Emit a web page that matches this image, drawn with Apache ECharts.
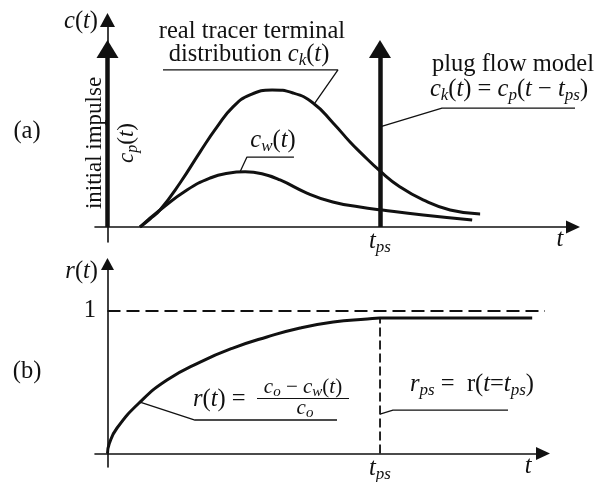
<!DOCTYPE html>
<html>
<head>
<meta charset="utf-8">
<script src="https://cdn.jsdelivr.net/npm/echarts@6/dist/echarts.min.js"></script>
<style>html,body{margin:0;padding:0;background:#fff}#c{width:594px;height:482px}</style>
</head>
<body>
<div id="c"></div>
<script>
// ---- data (panel a) ----
const tCk = [0.716, 0.936, 1.156, 1.597, 2.037, 2.412, 2.764, 3.139, 3.623, 4.086, 4.526, 4.967, 5.341, 5.561, 6.024, 6.443, 6.949, 7.544, 8.205];
const cCk = [0, 0.058, 0.123, 0.319, 0.543, 0.725, 0.870, 0.957, 0.993, 0.971, 0.899, 0.754, 0.616, 0.543, 0.399, 0.290, 0.196, 0.123, 0.094];
const tCw = [0.716, 1.156, 1.75, 2.26, 2.65, 3.03, 3.4, 3.8, 4.39, 4.96, 5.56, 6.05, 6.95, 8.03];
const cCw = [0, 0.123, 0.268, 0.355, 0.390, 0.400, 0.386, 0.341, 0.246, 0.181, 0.145, 0.123, 0.087, 0.051];
const tPs = 6;
const impulseHeight = 1.29;
// ---- data (panel b) ----
const tR = [0, 0.04, 0.21, 0.716, 1.31, 2.04, 2.76, 3.51, 4.24, 4.97, 5.72, 6.0, 9.35];
const rR = [0, 0.07, 0.179, 0.361, 0.516, 0.642, 0.740, 0.818, 0.881, 0.923, 0.944, 0.951, 0.951];
const rRef = 1;
const tRefEnd = 9.81;
// ---- tick labels ----
const tLabelA = 9.96, tLabelB = 9.26;
// ---- leader lines (data coords) ----
const leadCkT = [1.222, 5.075, 4.568], leadCkC = [1.138, 1.138, 0.899];
const leadCwT = [4.106, 3.071, 2.917], leadCwC = [0.507, 0.507, 0.399];
const leadPfT = [10.711, 7.365, 6.0], leadPfC = [0.862, 0.862, 0.725];
const leadRT = [5.053, 1.926, 0.716], leadRR = [0.235, 0.235, 0.361];
const leadRpsT = [8.818, 6.285, 6.0], leadRpsR = [0.305, 0.305, 0.277];

const zip = (a, b) => a.map((v, i) => [v, b[i]]);
const F = 'Liberation Serif';
const K = '#111';
function richSet(size, subSize, subPad) {
  return {
    n: {fontFamily: F, fontSize: size, fill: K, color: K},
    i: {fontFamily: F, fontSize: size, fontStyle: 'italic', fill: K, color: K},
    s: {fontFamily: F, fontSize: subSize, fontStyle: 'italic', fill: K, color: K, padding: [subPad, 0, 0, 0]}
  };
}
const R24 = richSet(24.5, 17, 12);
const R23 = richSet(23, 16, 11);
const R21 = richSet(21, 15, 10);

function txt(x, y, text, align, rich, rot) {
  return {type: 'text', x: x, y: y, rotation: rot || 0, silent: true,
    style: {text: text, align: align, verticalAlign: 'middle', rich: rich || R24,
      font: '24px "' + F + '"', fill: K}};
}
const lead = (name, xi, yi, t, v) => ({type: 'line', name: name, xAxisIndex: xi, yAxisIndex: yi,
  data: zip(t, v), symbol: 'none', clip: false, silent: true, z: 3,
  lineStyle: {color: K, width: 1.3}});

const axisCommon = {
  splitLine: {show: false}, axisTick: {show: false},
  axisLine: {onZero: true, symbol: ['none', 'triangle'], lineStyle: {color: K, width: 1.6}}
};

const chart = echarts.init(document.getElementById('c'), null, {renderer: 'canvas'});
chart.setOption({
  animation: false,
  backgroundColor: '#fff',
  grid: [
    {left: 95, right: 21, top: 20, bottom: 240, outerBoundsMode: 'none', containLabel: false},
    {left: 95, right: 51, top: 264, bottom: 15, outerBoundsMode: 'none', containLabel: false}
  ],
  xAxis: [
    Object.assign({}, axisCommon, {type: 'value', gridIndex: 0, min: -0.275, max: 10.25,
      axisLine: Object.assign({}, axisCommon.axisLine, {symbolSize: [13, 14]}),
      axisLabel: {customValues: [tPs, tLabelA], margin: -15, rich: R24,
        formatter: v => Math.abs(v - tPs) < 0.01 ? '{i|t}{s|ps}' : '{i|t}'}}),
    Object.assign({}, axisCommon, {type: 'value', gridIndex: 1, min: -0.275, max: 9.588,
      axisLine: Object.assign({}, axisCommon.axisLine, {symbolSize: [13, 14]}),
      axisLabel: {customValues: [tPs, tLabelB], margin: -13, rich: R24,
        formatter: v => Math.abs(v - tPs) < 0.01 ? '{i|t}{s|ps}' : '{i|t}'}})
  ],
  yAxis: [
    Object.assign({}, axisCommon, {type: 'value', gridIndex: 0, min: -0.1087, max: 1.5,
      axisLine: Object.assign({}, axisCommon.axisLine, {symbolSize: [15, 14]}),
      axisLabel: {show: false}}),
    Object.assign({}, axisCommon, {type: 'value', gridIndex: 1, min: -0.0947, max: 1.33,
      axisLine: Object.assign({}, axisCommon.axisLine, {symbolSize: [13, 12]}),
      axisLabel: {customValues: [rRef], margin: -1, fontFamily: F, fontSize: 24.5, color: K,
        formatter: () => '1'}})
  ],
  series: [
    {type: 'line', name: 'ck', xAxisIndex: 0, yAxisIndex: 0, data: zip(tCk, cCk),
      smooth: 0.5, symbol: 'none', lineStyle: {color: K, width: 3}, z: 4,
      markLine: {silent: true, symbol: ['none', 'triangle'], symbolSize: [22, 18],
        label: {show: false}, lineStyle: {color: K, width: 4.5, type: 'solid'},
        data: [
          [{coord: [0, 0]}, {coord: [0, impulseHeight]}],
          [{coord: [tPs, 0]}, {coord: [tPs, impulseHeight]}]
        ]}},
    {type: 'line', name: 'cw', xAxisIndex: 0, yAxisIndex: 0, data: zip(tCw, cCw),
      smooth: 0.5, symbol: 'none', lineStyle: {color: K, width: 3}, z: 4},
    lead('l1', 0, 0, leadCkT, leadCkC),
    lead('l2', 0, 0, leadCwT, leadCwC),
    lead('l3', 0, 0, leadPfT, leadPfC),
    {type: 'line', name: 'r', xAxisIndex: 1, yAxisIndex: 1, data: zip(tR, rR),
      smooth: 0.5, symbol: 'none', lineStyle: {color: K, width: 3}, z: 4},
    {type: 'line', name: 'ref', xAxisIndex: 1, yAxisIndex: 1, data: [[0, rRef], [tRefEnd, rRef]],
      symbol: 'none', clip: false, lineStyle: {color: K, width: 2.2, type: [13, 6]}},
    {type: 'line', name: 'tps', xAxisIndex: 1, yAxisIndex: 1, data: [[tPs, 0], [tPs, rR[11]]],
      symbol: 'none', lineStyle: {color: K, width: 1.8, type: [9, 4]}},
    lead('l4', 1, 1, leadRT, leadRR),
    lead('l5', 1, 1, leadRpsT, leadRpsR)
  ],
  graphic: [
    txt(27, 132, '{n|(a)}', 'center'),
    txt(27, 372, '{n|(b)}', 'center'),
    txt(98, 22, '{i|c}{n|(}{i|t}{n|)}', 'right'),
    txt(98, 272, '{i|r}{n|(}{i|t}{n|)}', 'right'),
    txt(252, 32, '{n|real tracer terminal}', 'center'),
    txt(249, 55, '{n|distribution }{i|c}{s|k}{n|(}{i|t}{n|)}', 'center'),
    txt(273, 141, '{i|c}{s|w}{n|(}{i|t}{n|)}', 'center'),
    txt(513, 65, '{n|plug flow model}', 'center'),
    txt(509, 90, '{i|c}{s|k}{n|(}{i|t}{n|) = }{i|c}{s|p}{n|(}{i|t}{n| \u2212 }{i|t}{s|ps}{n|)}', 'center'),
    txt(95, 143, '{n|initial impulse}', 'center', R23, Math.PI / 2),
    txt(127, 143, '{i|c}{s|p}{n|(}{i|t}{n|)}', 'center', R23, Math.PI / 2),
    txt(193, 400, '{i|r}{n|(}{i|t}{n|) =}', 'left'),
    txt(303, 387, '{i|c}{s|o}{n| \u2212 }{i|c}{s|w}{n|(}{i|t}{n|)}', 'center', R21),
    {type: 'line', silent: true, shape: {x1: 257, y1: 398.5, x2: 349, y2: 398.5}, style: {stroke: K, lineWidth: 1.2}},
    txt(305, 408, '{i|c}{s|o}', 'center', R21),
    txt(472, 385, '{i|r}{s|ps}{n| =  r(}{i|t}{n|=}{i|t}{s|ps}{n|)}', 'center')
  ]
});
</script>
</body>
</html>
